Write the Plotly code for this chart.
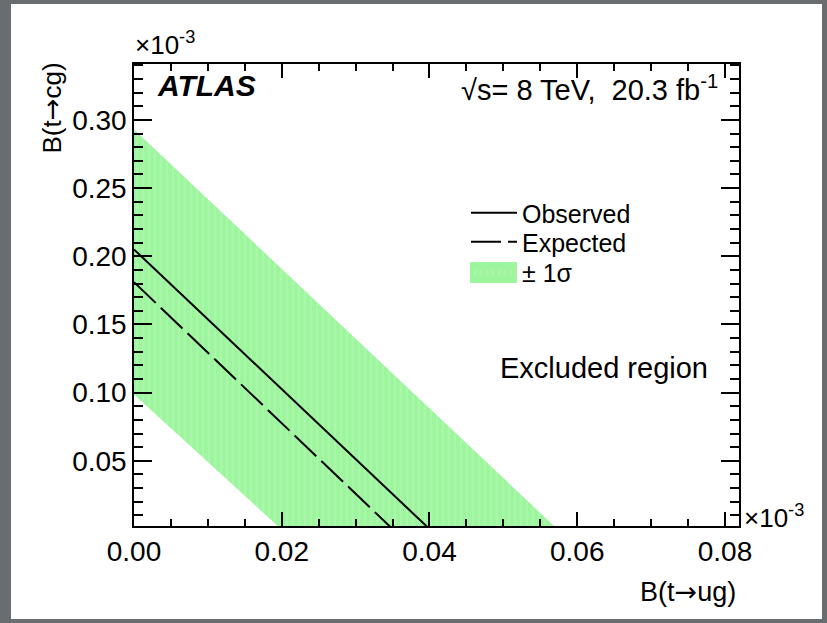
import plotly.graph_objects as go

# Data (units of 1e-3), straight-line limits:
# each limit is given by its intercepts on the two axes
ARROW = '<span style="font-family:DejaVu Sans">→</span>'
ug_axis_label = "B(t" + ARROW + "ug)"
cg_axis_label = "B(t" + ARROW + "cg)"

observed_ug = [0.0, 0.0400]
observed_cg = [0.205, 0.0]

expected_ug = [0.0, 0.0350]
expected_cg = [0.181, 0.0]

band_upper_ug = [0.0, 0.0573]
band_upper_cg = [0.293, 0.0]
band_lower_ug = [0.0199, 0.0]
band_lower_cg = [0.0, 0.0987]

x_ticks = [0.00, 0.02, 0.04, 0.06, 0.08]
y_ticks = [0.05, 0.10, 0.15, 0.20, 0.25, 0.30]

FONT = "Liberation Sans, Arial, Helvetica, sans-serif"
GREEN = "#9df59d"

W, H = 827, 623
L, R, T, B = 134, 88, 64, 97
pw, ph = W - L - R, H - T - B


def px(xp):
    return (xp - L) / pw


def py(yp):
    return (H - B - yp) / ph


fig = go.Figure()

# +-1 sigma band: polygon between upper and lower edges
band_x = band_upper_ug + band_lower_ug
band_y = band_upper_cg + band_lower_cg
fig.add_trace(go.Scatter(
    x=band_x, y=band_y, mode="lines", fill="toself",
    fillcolor=GREEN, line=dict(width=0, color=GREEN),
    fillpattern=dict(shape="|", bgcolor=GREEN, fgcolor="#bff9bf",
                     size=6, solidity=0.25),
    name="± 1σ", legend="legend3", hoverinfo="skip"))

fig.add_trace(go.Scatter(
    x=expected_ug, y=expected_cg, mode="lines",
    line=dict(color="black", width=2, dash="30px,7px"),
    name="Expected", legend="legend2"))

fig.add_trace(go.Scatter(
    x=observed_ug, y=observed_cg, mode="lines",
    line=dict(color="black", width=2),
    name="Observed", legend="legend"))

axis_common = dict(
    showline=True, linecolor="black", linewidth=1.5, mirror="allticks",
    ticks="inside", tickcolor="black", tickwidth=1.5,
    showgrid=False, zeroline=False, tickformat=".2f",
    tickfont=dict(family=FONT, size=28, color="black"),
)

fig.update_xaxes(range=[0.0, 0.0819], tickmode="array", tickvals=x_ticks,
                 ticklen=14,
                 minor=dict(dtick=0.005, tick0=0, ticks="inside", ticklen=7,
                            tickcolor="black", tickwidth=1.5, showgrid=False),
                 **axis_common)
fig.update_yaxes(range=[0.0022, 0.341], tickmode="array", tickvals=y_ticks,
                 ticklen=18,
                 minor=dict(dtick=0.01, tick0=0, ticks="inside", ticklen=9,
                            tickcolor="black", tickwidth=1.5, showgrid=False),
                 **axis_common)

annotations = [
    dict(text="<b><i>ATLAS</i></b>", x=px(155), y=py(104), xanchor="left",
         yanchor="bottom", font=dict(family=FONT, size=30, color="black")),
    dict(text="√s= 8 TeV,  20.3 fb<sup>-1</sup>", x=px(720), y=py(108),
         xanchor="right", yanchor="bottom",
         font=dict(family=FONT, size=29, color="black")),
    dict(text="Excluded region", x=px(710), y=py(386), xanchor="right",
         yanchor="bottom", font=dict(family=FONT, size=29, color="black")),
    dict(text="×10<sup>-3</sup>", x=px(133), y=py(62), xanchor="left",
         yanchor="bottom", font=dict(family=FONT, size=26, color="black")),
    dict(text="×10<sup>-3</sup>", x=px(742), y=py(535), xanchor="left",
         yanchor="bottom", font=dict(family=FONT, size=26, color="black")),
    dict(text=ug_axis_label, x=px(738), y=py(574), xanchor="right",
         yanchor="top", font=dict(family=FONT, size=27, color="black")),
    dict(text=cg_axis_label, x=px(52), y=py(61), xanchor="center",
         yanchor="top", textangle=-90,
         font=dict(family=FONT, size=26, color="black")),
]
for a in annotations:
    a.update(xref="paper", yref="paper", showarrow=False)

leg_common = dict(xanchor="left", yanchor="middle", bgcolor="rgba(0,0,0,0)",
                  font=dict(family=FONT, size=25, color="black"),
                  itemwidth=46, tracegroupgap=0)

fig.update_layout(
    width=W, height=H,
    margin=dict(l=L, r=R, t=T, b=B, pad=0),
    paper_bgcolor="#6a6d6f", plot_bgcolor="white",
    showlegend=True,
    legend=dict(x=px(466), y=py(213), **leg_common),
    legend2=dict(x=px(466), y=py(242), **leg_common),
    legend3=dict(x=px(466), y=py(272), **leg_common),
    annotations=annotations,
    shapes=[
        dict(type="rect", xref="paper", yref="paper",
             x0=px(11), x1=px(822), y0=py(619), y1=py(4),
             fillcolor="white", line=dict(width=0), layer="below"),
        # enlarge the band's legend swatch
        dict(type="rect", xref="paper", yref="paper",
             x0=px(470), x1=px(517), y0=py(283), y1=py(262),
             fillcolor=GREEN, line=dict(width=0), layer="above"),
    ],
)

fig.write_html("out.html")
